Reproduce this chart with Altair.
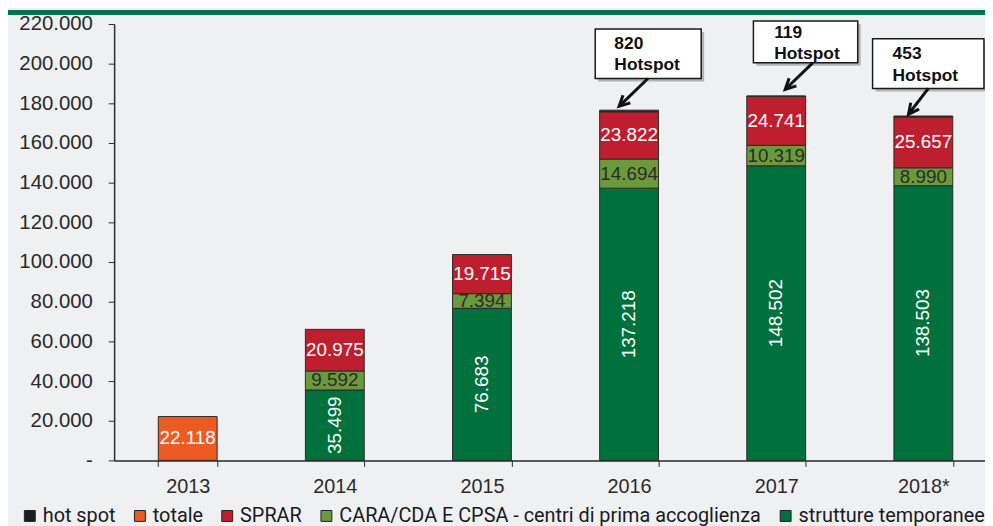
import math
import altair as alt
import pandas as pd

# ---------------- data ----------------
years = ["2013", "2014", "2015", "2016", "2017", "2018*"]
totale = [22118, None, None, None, None, None]
strutture = [None, 35499, 76683, 137218, 148502, 138503]
cara = [None, 9592, 7394, 14694, 10319, 8990]
sprar = [None, 20975, 19715, 23822, 24741, 25657]
hotspot = [None, None, None, 820, 119, 453]

series_names = ["hot spot", "totale", "SPRAR",
                "CARA/CDA E CPSA - centri di prima accoglienza",
                "strutture temporanee"]
series_colors = ["#1c1c1c", "#ee5a24", "#be1e2d", "#6a9a3c", "#00713d"]

# hotspot annotations (data units: x in band steps, y in values)
ann_years = ["2016", "2017", "2018*"]
ann_values = [820, 119, 453]
ann_box_x = [(3.27, 3.99), (4.345, 5.054), (5.155, 5.912)]
ann_box_y = [(192500, 217500), (200500, 221500), (187500, 212500)]
ann_text_x = [3.40, 4.486, 5.291]
ann_text_y = [(210000, 199500), (215500, 205000), (205000, 194000)]
ann_arrow = [((3.628, 192500), (3.432, 178500)),
             ((4.750, 200500), (4.561, 187000)),
             ((5.534, 187500), (5.399, 174500))]

STEP = 890 / 6.0  # px per band step
PX_PER_UNIT = 2.0 / 1000  # px per value unit


def fmt(v):
    return f"{v:,}".replace(",", ".")


# ---------------- build tables ----------------
rows = []
stack = [("totale", totale), ("strutture temporanee", strutture),
         ("CARA/CDA E CPSA - centri di prima accoglienza", cara),
         ("SPRAR", sprar), ("hot spot", hotspot)]
for i, yr in enumerate(years):
    base = 0
    for k, (name, arr) in enumerate(stack):
        v = arr[i]
        if v is None:
            continue
        rows.append(dict(year=yr, series=name, y0=base, y1=base + v,
                         mid=base + v / 2, order=k,
                         label="" if name == "hot spot" else fmt(v),
                         tcolor="#2b2b2b" if name.startswith("CARA") else "#ffffff",
                         rot=name == "strutture temporanee"))
        base += v
df = pd.DataFrame(rows)

boxes = pd.DataFrame([dict(x0=bx[0], x1=bx[1], y0=by[0], y1=by[1])
                      for bx, by in zip(ann_box_x, ann_box_y)])
texts = []
for v, tx, ty in zip(ann_values, ann_text_x, ann_text_y):
    texts.append(dict(x=tx, y=ty[0], t=str(v)))
    texts.append(dict(x=tx, y=ty[1], t="Hotspot"))
texts = pd.DataFrame(texts)
arrows = []
for (p0, p1) in ann_arrow:
    vx = (p1[0] - p0[0]) * STEP
    vy = -(p1[1] - p0[1]) * PX_PER_UNIT
    ang = math.degrees(math.atan2(-vx, vy)) % 360
    arrows.append(dict(x0=p0[0], y0=p0[1], x1=p1[0], y1=p1[1], ang=ang))
arrows = pd.DataFrame(arrows)

# ---------------- scales ----------------
yscale = alt.Scale(domain=[0, 220000], nice=False, zero=True)
xband = alt.Scale(domain=years, range=[0, 890], paddingInner=0.6, paddingOuter=0.3)
xq = alt.Scale(domain=[0, 6], range=[0, 890], nice=False, zero=False)

FONT = "Liberation Sans"

yaxis = alt.Axis(values=list(range(0, 220001, 20000)), grid=False, title=None,
                 labelExpr="datum.value == 0 ? '-' : replace(format(datum.value, ','), ',', '.')",
                 labelFont=FONT, labelFontSize=20.5, labelColor="#2a2a2a",
                 domainColor="#2a2a2a", tickColor="#2a2a2a", tickSize=6,
                 labelPadding=16, domainWidth=1.5, labelOverlap=False,
                 labelFlush=False)
xaxis = alt.Axis(title=None, labelAngle=0, labelFont=FONT, labelFontSize=20,
                 labelColor="#2a2a2a", domainColor="#2a2a2a", tickColor="#2a2a2a",
                 tickSize=6, tickBand="extent", labelPadding=10, domainWidth=1.5)


def Y(field):
    return alt.Y(field, scale=yscale, axis=yaxis)


base = alt.Chart(df)

bars = base.mark_bar(stroke="#2a2a2a", strokeWidth=1).encode(
    x=alt.X("year:N", sort=years, scale=xband, axis=xaxis),
    y=Y("y0:Q"),
    y2="y1:Q",
    color=alt.Color("series:N",
                    scale=alt.Scale(domain=series_names, range=series_colors),
                    legend=alt.Legend(orient="none", legendX=-95, legendY=486,
                                      direction="horizontal", title=None,
                                      symbolType="square", symbolSize=121,
                                      symbolStrokeColor="#222", symbolStrokeWidth=1,
                                      labelFont="Roboto",
                                      labelFontSize=20, labelColor="#1a1a1a",
                                      labelLimit=700, columnPadding=14,
                                      labelOffset=3)),
    order=alt.Order("order:Q"),
)

hlabels = base.transform_filter("datum.label != '' && !datum.rot").mark_text(
    font=FONT, fontSize=19, baseline="middle").encode(
    x=alt.X("year:N", sort=years, scale=xband, axis=None),
    y=Y("mid:Q"),
    text="label:N",
    color=alt.Color("tcolor:N", scale=None),
)
vlabels = base.transform_filter("datum.rot").mark_text(
    font=FONT, fontSize=19, baseline="middle", angle=270).encode(
    x=alt.X("year:N", sort=years, scale=xband, axis=None),
    y=Y("mid:Q"),
    text="label:N",
    color=alt.value("#ffffff"),
)

shadow = alt.Chart(boxes).mark_rect(color="#8a8a8a", opacity=0.6, xOffset=3, yOffset=3, x2Offset=3, y2Offset=3).encode(
    x=alt.X("x0:Q", scale=xq, axis=None), x2="x1:Q",
    y=Y("y0:Q"), y2="y1:Q")
box = alt.Chart(boxes).mark_rect(fill="#ffffff", stroke="#1a1a1a", strokeWidth=1.5).encode(
    x=alt.X("x0:Q", scale=xq, axis=None), x2="x1:Q",
    y=Y("y0:Q"), y2="y1:Q")
btext = alt.Chart(texts).mark_text(font=FONT, fontSize=17.5, fontWeight="bold",
                                   align="left", baseline="middle", color="#111").encode(
    x=alt.X("x:Q", scale=xq, axis=None),
    y=Y("y:Q"),
    text="t:N")
arrow_line = alt.Chart(arrows).mark_rule(color="#111", strokeWidth=3).encode(
    x=alt.X("x0:Q", scale=xq, axis=None), x2="x1:Q",
    y=Y("y0:Q"), y2="y1:Q")
arrow_head = alt.Chart(arrows).mark_point(
    shape="M -0.75 -1.5 L 0 0 L 0.75 -1.5", filled=False, stroke="#111",
    strokeWidth=3, size=200, opacity=1).encode(
    x=alt.X("x1:Q", scale=xq, axis=None),
    y=Y("y1:Q"),
    angle=alt.Angle("ang:Q", scale=None))

band = alt.Chart(df).mark_rect(color="#00754a").encode(
    x=alt.value(-107), x2=alt.value(878), y=alt.value(-14), y2=alt.value(-9))

chart = alt.layer(
    bars, hlabels, vlabels,
    shadow, box, btext, arrow_line, arrow_head, band
).resolve_scale(x="independent").properties(
    width=878, height=440,
    autosize=alt.AutoSizeParams(type="none"),
    padding={"left": 107, "top": 14, "right": 0, "bottom": 64},
    background="#eff0f2",
).configure_view(stroke=None)

chart.save("out.html", embed_options={"renderer": "svg", "actions": False})
